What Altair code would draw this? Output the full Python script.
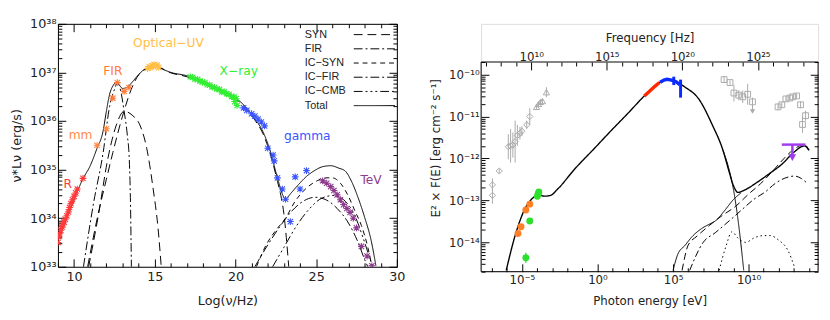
import altair as alt
import pandas as pd

FONT = "DejaVu Sans"

# ================= LEFT PANEL (log10 nu [Hz], log10 nuL_nu [erg/s]) =================
tot_lx = [9.0, 9.5, 10.0, 10.5, 11.0, 11.4, 11.8, 12.0, 12.2, 12.4, 12.6, 12.8, 13.0, 13.3, 13.6,
          13.9, 14.3, 14.7, 15.0, 15.4, 16.0, 17.0, 18.0, 19.0, 19.9, 20.6, 21.2, 21.7, 22.1, 22.6,
          22.9, 23.1, 23.4, 23.9, 24.4, 24.9, 25.4, 25.9, 26.4, 26.8, 27.2, 27.6, 28.0, 28.4, 28.7]
tot_ly = [33.55, 33.96, 34.37, 34.78, 35.08, 35.42, 35.8, 36.2, 36.55, 36.72, 36.79, 36.74, 36.67, 36.7, 36.8,
          36.92, 37.05, 37.12, 37.15, 37.08, 37.0, 36.93, 36.8, 36.65, 36.5, 36.3, 36.05, 35.78, 35.44, 34.83,
          34.5, 34.39, 34.5, 34.69, 34.86, 34.98, 35.06, 35.08, 35.03, 34.97, 34.75, 34.42, 34.02, 33.55, 33.02]
syn_lx = [10.84, 11.5, 12.0, 12.4, 13.0, 13.6, 14.0, 14.3, 15.0, 16.0, 17.0, 18.0, 19.0, 19.9, 20.6,
          21.2, 21.7, 22.1, 22.6, 22.85, 23.0, 23.15, 23.3]
syn_ly = [33.0, 34.1, 34.8, 35.35, 36.1, 36.7, 36.95, 37.04, 37.13, 36.99, 36.91, 36.78, 36.63, 36.48, 36.28,
          36.02, 35.74, 35.38, 34.76, 34.4, 34.09, 33.6, 33.0]
synb_lx = [10.9, 11.5, 12.1, 12.6, 13.1, 13.6, 14.1, 14.5, 14.9, 15.2, 15.4]
synb_ly = [33.0, 34.05, 35.24, 35.9, 36.2, 36.12, 35.9, 35.44, 34.6, 33.8, 33.0]
fir_lx = [10.58, 11.2, 11.8, 12.2, 12.5, 12.7, 12.9, 13.1, 13.3, 13.42, 13.5, 13.55]
fir_ly = [33.0, 34.3, 35.35, 36.3, 36.65, 36.79, 36.6, 36.2, 35.7, 35.2, 34.2, 33.0]
icsyn_lx = [21.3, 21.9, 22.5, 23.1, 23.7, 24.4, 25.06, 25.6, 26.0, 26.5, 27.0, 27.4, 27.8, 28.2, 28.45]
icsyn_ly = [33.0, 33.45, 33.75, 34.0, 34.35, 34.62, 34.77, 34.83, 34.83, 34.72, 34.45, 34.15, 33.85, 33.4, 33.02]
icfir_lx = [21.2, 22.0, 22.8, 23.5, 24.2, 24.94, 25.6, 26.3, 27.0, 27.6, 28.0, 28.2]
icfir_ly = [33.0, 33.45, 33.85, 34.15, 34.35, 34.43, 34.38, 34.2, 33.9, 33.5, 33.15, 33.0]
iccmb_lx = [22.3, 23.0, 23.8, 24.6, 25.4, 26.15, 26.8, 27.4, 27.9, 28.3, 28.5]
iccmb_ly = [33.0, 33.4, 33.85, 34.2, 34.42, 34.47, 34.35, 34.05, 33.6, 33.2, 33.0]

comp_names = ["SYN", "FIR", "IC\u2212SYN", "IC\u2212FIR", "IC\u2212CMB", "Total"]
comp_dash = [[9, 5], [9, 3, 2, 3], [5, 4], [9, 3, 2, 3], [9, 3, 2, 3, 2, 3, 2, 3], [1, 0]]

# observed points
r_lx = [9.0, 9.05, 9.1, 9.18, 9.25, 9.3, 9.38, 9.45, 9.55, 9.65, 9.72, 9.8, 9.9, 10.0, 10.1, 10.2, 10.55]
r_ly = [33.5, 33.62, 33.68, 33.75, 33.82, 33.86, 33.92, 33.98, 34.05, 34.13, 34.22, 34.3, 34.38, 34.45, 34.52, 34.6, 34.82]
mm_lx = [11.42, 12.0]
mm_ly = [35.5, 35.84]
firp_lx = [12.4, 12.68, 13.1, 13.4]
firp_ly = [36.47, 36.79, 36.61, 36.69]
opt_lx = [14.55, 14.65, 14.75, 14.85, 14.95, 15.05, 15.15, 15.25]
opt_ly = [37.08, 37.12, 37.1, 37.14, 37.16, 37.13, 37.15, 37.1]
xr_lx = [17.2, 17.35, 17.5, 17.65, 17.8, 17.95, 18.1, 18.25, 18.4, 18.55, 18.7, 18.85, 19.0, 19.15,
         19.3, 19.45, 19.6, 19.75, 19.9, 20.05, 19.95, 20.1]
xr_ly = [36.91, 36.9, 36.86, 36.86, 36.82, 36.8, 36.79, 36.75, 36.74, 36.7, 36.69, 36.66, 36.65, 36.6,
         36.6, 36.56, 36.55, 36.5, 36.5, 36.46, 36.4, 36.32]
gam_lx = [20.5, 20.7, 21.0, 21.2, 21.4, 21.6, 21.8, 22.0, 22.33, 22.4, 22.6, 22.9, 23.1, 23.4, 23.7, 24.0, 24.4]
gam_ly = [36.27, 36.22, 36.15, 36.1, 36.04, 35.98, 35.9, 35.44, 35.3, 35.18, 34.83, 34.6, 34.39, 33.93, 34.85, 34.6, 34.98]
tev_lx = [25.4, 25.65, 25.9, 26.1, 26.3, 26.5, 26.7, 26.9, 27.1, 27.3, 27.5, 27.8, 28.15, 28.45]
tev_ly = [34.77, 34.72, 34.65, 34.57, 34.48, 34.38, 34.28, 34.2, 34.12, 34.0, 33.8, 33.42, 33.22, 33.02]

band_names = ["R", "mm", "FIR", "Optical\u2212UV", "X\u2212ray", "gamma", "TeV"]
band_colors = ["#FF3A3A", "#FF8A4A", "#FF7A3A", "#FFBE45", "#33EE33", "#3B55FF", "#8E3B8E"]
lab_lx = [9.6, 10.4, 12.4, 15.85, 20.2, 24.45, 28.4]
lab_ly = [34.7, 35.72, 37.02, 37.6, 37.03, 35.68, 34.79]

# ================= RIGHT PANEL (log10 E [eV], log10 E^2F(E) [erg cm-2 s-1]) =================
rtot_lx = [-6.04, -5.45, -4.8, -4.3, -3.9, -3.5, -3.1, -2.66, -1.5, -0.15, 1.0, 2.0, 3.1, 4.1, 4.6,
           5.2, 5.8, 6.7, 7.6, 8.3, 8.7, 9.0, 9.3, 9.7, 10.6, 11.5, 12.2, 13.0, 13.7, 14.0]
rtot_ly = [-14.67, -13.84, -13.2, -12.95, -12.87, -12.9, -12.88, -12.74, -12.25, -11.74, -11.3, -10.93, -10.51, -10.19, -10.12,
           -10.17, -10.3, -10.58, -11.2, -11.8, -12.3, -12.65, -12.81, -12.76, -12.56, -12.33, -12.14, -11.85, -11.7, -11.81]
rsyn_lx = [8.3, 8.7, 9.0, 9.35, 9.68]
rsyn_ly = [-11.8, -12.25, -12.74, -13.6, -14.67]
ric_lx = [5.0, 5.3, 5.8, 6.3, 6.9, 7.5, 7.8, 8.4, 9.0, 9.5]
ric_ly = [-14.67, -14.3, -14.07, -13.85, -13.67, -13.55, -13.49, -13.25, -12.98, -12.82]
rdash_lx = [5.6, 6.0, 6.6, 7.4, 8.3, 9.15, 10.0, 10.8, 11.6, 12.4, 13.0, 13.7, 14.0]
rdash_ly = [-14.67, -14.07, -13.85, -13.6, -13.35, -13.14, -12.85, -12.6, -12.3, -11.98, -11.78, -11.67, -11.8]
rdd_lx = [6.1, 7.0, 7.8, 9.1, 10.45, 11.1, 11.75, 12.4, 13.05, 13.5, 13.9]
rdd_ly = [-14.67, -14.0, -13.77, -13.37, -12.95, -12.8, -12.6, -12.47, -12.42, -12.48, -12.6]
rdot_lx = [8.05, 8.5, 8.9, 9.3, 9.8, 10.45, 11.0, 11.43, 12.0, 12.6, 13.05]
rdot_ly = [-14.67, -14.1, -13.75, -13.9, -14.0, -13.88, -13.84, -13.84, -13.95, -14.19, -14.6]

org_lx = [-5.26, -5.06, -4.74, -4.48]
org_ly = [-13.79, -13.63, -13.23, -13.09]
grn_lx = [-3.98, -3.92, -3.88, -4.48, -4.74]
grn_ly = [-12.9, -12.84, -12.8, -13.49, -14.37]
grn_e = [0.0, 0.0, 0.0, 0.0, 0.12]
red_lx = [3.1, 3.5, 3.8, 4.1]
red_ly = [-10.51, -10.38, -10.28, -10.19]
blu_lx = [4.15, 4.4, 4.6, 4.9, 5.2, 5.45]
blu_ly = [-10.18, -10.13, -10.11, -10.13, -10.17, -10.24]
bluerr_lx = [5.05, 5.5]
bluerr_lo = [-10.25, -10.55]
bluerr_hi = [-10.05, -10.12]
ul_lx = [12.2, 13.77]
ul_ly = -11.67
ul_arrow_lx = 12.9
ul_arrow_ly = -11.98

gd_lx = [-6.95, -6.95, -6.5, -5.9, -5.75, -5.6, -5.45, -5.3, -5.13, -5.0, -4.68, -4.48]
gd_ly = [-12.63, -12.88, -12.3, -11.72, -11.7, -11.68, -11.6, -11.45, -11.4, -11.35, -11.2, -11.0]
gd_e = [0.15, 0.2, 0.05, 0.3, 0.4, 0.3, 0.5, 0.25, 0.15, 0.12, 0.1, 0.2]
gt_lx = [-4.03, -3.9, -3.77, -3.64, -3.38]
gt_ly = [-10.77, -10.7, -10.65, -10.63, -10.42]
gt_e = [0.05, 0.05, 0.05, 0.05, 0.12]
gs_lx = [8.38, 8.77, 9.03, 9.35, 9.61, 9.94, 10.26, 11.95, 12.2, 12.47, 12.73, 12.92, 13.18, 13.44, 13.77, 13.57]
gs_ly = [-10.12, -10.19, -10.44, -10.49, -10.53, -10.47, -10.65, -10.77, -10.72, -10.58, -10.56, -10.53, -10.51, -10.72, -10.98, -11.19]
gs_e = [0.08, 0.05, 0.2, 0.12, 0.15, 0.25, 0.1, 0.08, 0.06, 0.06, 0.05, 0.05, 0.06, 0.08, 0.12, 0.2]
gul_lx = 10.26
gul_ly = -10.88

LOG_NU_PER_EV = 14.383  # log10(1/h) with h in eV s

# axis ranges
E_RANGE = [-7.7, 14.6]
F_RANGE = [-14.7, -9.7]
F_TOP_PAD = -8.79   # empty band above the right frame (holds the frequency axis)

# ================= helpers =================
def P(v):
    return 10.0 ** v


def curves(spec):
    rows = []
    for comp, seg, xs, ys in spec:
        for i, (a, b) in enumerate(zip(xs, ys)):
            rows.append({"lx": a, "v": P(b), "comp": comp, "seg": seg, "i": i})
    return pd.DataFrame(rows)


SUP = "'\u2070\u00b9\u00b2\u00b3\u2074\u2075\u2076\u2077\u2078\u2079'"
E = "round(log(datum.value)/LN10)"
AE = f"abs({E})"
POW_LABEL = (f"'10' + ({E} < 0 ? '\u207b' : '') + ({AE} >= 10 ? substring({SUP}, floor({AE}/10), floor({AE}/10)+1) : '')"
             f" + substring({SUP}, {AE}%10, {AE}%10+1)")
IS_POW = f"abs(log(datum.value)/LN10 - {E}) < 0.001"
IS_POW5 = f"({IS_POW}) && ({E} % 5 == 0)"


def mk_axis(orient, values, major, expr=None, title=None, labels=True, fs=12, tfs=13, lpad=None, tpad=None,
            domain=True, offset=None):
    kw = dict(orient=orient, values=values, grid=False, domain=domain, domainColor="black", domainWidth=1,
              ticks=True, tickColor="black", tickWidth=1,
              tickSize={"condition": {"test": major, "value": -8}, "value": -4},
              labels=labels, labelOverlap=False, labelFlush=False,
              labelFont=FONT, labelFontSize=fs, labelColor="#222",
              titleFont=FONT, titleFontSize=tfs, titleColor="#222", titleFontWeight="normal", title=title)
    if expr is not None:
        kw["labelExpr"] = expr
    if lpad is not None:
        kw["labelPadding"] = lpad
    if tpad is not None:
        kw["titlePadding"] = tpad
    if offset is not None:
        kw["offset"] = {"expr": str(offset)}
    return alt.Axis(**kw)


# ================= LEFT CHART =================
XL = alt.Scale(domain=[9, 30], nice=False, zero=False)
YL = alt.Scale(type="log", domain=[1e33, 1e38], nice=False)
xl_vals = list(range(9, 31))
yl_vals = [m * 10.0 ** e for e in range(33, 38) for m in range(1, 10)] + [1e38]
XL_MAJOR = "datum.value % 5 == 0"

frameL = pd.DataFrame({"x": [9, 30], "y": [1e33, 1e38]})
axesL = alt.Chart(frameL).mark_point(opacity=0).encode(
    x=alt.X("x:Q", scale=XL, axis=mk_axis("bottom", xl_vals, XL_MAJOR,
                                           expr="datum.value % 5 == 0 ? toString(datum.value) : ''",
                                           title="Log(\u03bd/Hz)", fs=13, lpad=12, tpad=8)),
    y=alt.Y("y:Q", scale=YL, axis=mk_axis("left", yl_vals, IS_POW, expr=f"{IS_POW} ? {POW_LABEL} : ''",
                                           title="\u03bd*L\u03bd (erg/s)", fs=13, lpad=10, tpad=6)),
)
mirrorL = alt.Chart(frameL).mark_point(opacity=0).encode(
    x=alt.X("x:Q", scale=XL, axis=mk_axis("top", xl_vals, XL_MAJOR, labels=False)),
    y=alt.Y("y:Q", scale=YL, axis=mk_axis("right", yl_vals, IS_POW, labels=False)),
)

curvesL = curves([
    ("SYN", "syn_a", syn_lx, syn_ly),
    ("SYN", "syn_b", synb_lx, synb_ly),
    ("FIR", "fir", fir_lx, fir_ly),
    ("IC\u2212SYN", "icsyn", icsyn_lx, icsyn_ly),
    ("IC\u2212FIR", "icfir", icfir_lx, icfir_ly),
    ("IC\u2212CMB", "iccmb", iccmb_lx, iccmb_ly),
    ("Total", "total", tot_lx, tot_ly),
])
# legend symbol: a long horizontal stroke drawn from a small symbol (keeps rows compact)
LEG_SYMBOL = "M-4.2,0L4.2,0"
lineL = alt.Chart(curvesL).mark_line(clip=True, color="black", strokeWidth=1, interpolate="monotone").encode(
    x=alt.X("lx:Q", scale=XL, axis=None),
    y=alt.Y("v:Q", scale=YL, axis=None),
    strokeDash=alt.StrokeDash("comp:N", scale=alt.Scale(domain=comp_names, range=comp_dash),
                              sort=comp_names,
                              legend=alt.Legend(title=None, orient="none", legendX=317.5, legendY=5.5, padding=0,
                                                symbolType=LEG_SYMBOL, symbolSize=100, symbolStrokeWidth=1,
                                                symbolStrokeColor="black", symbolFillColor="transparent",
                                                rowPadding=2.5,
                                                labelOffset={"expr": "-76.5"}, labelAlign="left",
                                                labelFont="Liberation Sans",
                                                labelFontSize=11, labelColor="#222")),
    detail="seg:N",
    order="i:Q",
)

pts = []
for name, xs, ys in [("R", r_lx, r_ly), ("mm", mm_lx, mm_ly), ("FIR", firp_lx, firp_ly),
                     ("Optical\u2212UV", opt_lx, opt_ly), ("X\u2212ray", xr_lx, xr_ly),
                     ("gamma", gam_lx, gam_ly), ("TeV", tev_lx, tev_ly)]:
    for a, b in zip(xs, ys):
        pts.append({"lx": a, "v": P(b), "band": name})
ptsL = pd.DataFrame(pts)
BAND = alt.Scale(domain=band_names, range=band_colors)
ASTER = "M-1,-1L1,1M-1,1L1,-1M0,-1.25L0,1.25M-1.25,0L1.25,0"
starL = alt.Chart(ptsL).mark_point(shape=ASTER, filled=False, strokeWidth=1.1, size=30, opacity=1, clip=True).encode(
    x=alt.X("lx:Q", scale=XL, axis=None),
    y=alt.Y("v:Q", scale=YL, axis=None),
    color=alt.Color("band:N", scale=BAND, legend=None),
)
labsL = pd.DataFrame({"lx": lab_lx, "v": [P(v) for v in lab_ly], "band": band_names})
textL = alt.Chart(labsL).mark_text(font=FONT, fontSize=12.5, align="center", baseline="middle").encode(
    x=alt.X("lx:Q", scale=XL, axis=None),
    y=alt.Y("v:Q", scale=YL, axis=None),
    text="band:N",
    color=alt.Color("band:N", scale=BAND, legend=None),
)

left = alt.layer(axesL, mirrorL, lineL, starL, textL).resolve_axis(
    x="independent", y="independent").properties(width=346, height=248)

# ================= RIGHT CHART =================
XE = alt.Scale(type="log", domain=[P(E_RANGE[0]), P(E_RANGE[1])], nice=False)
XF = alt.Scale(type="log", domain=[P(E_RANGE[0] + LOG_NU_PER_EV), P(E_RANGE[1] + LOG_NU_PER_EV)], nice=False)
YR = alt.Scale(type="log", domain=[P(F_RANGE[0]), P(F_TOP_PAD)], nice=False)
xe_vals = [10.0 ** k for k in range(-7, 15)]
xf_vals = [10.0 ** k for k in range(7, 29)]
yr_vals = [m * 10.0 ** e for e in range(-15, -9) for m in range(1, 10)
           if 1.99e-15 <= m * 10.0 ** e <= 2.01e-10]

frameR = pd.DataFrame({"x": [P(E_RANGE[0]), P(E_RANGE[1])], "y": [P(F_RANGE[0]), P(F_RANGE[1])]})
axesR = alt.Chart(frameR).mark_point(opacity=0).encode(
    x=alt.X("x:Q", scale=XE, axis=mk_axis("bottom", xe_vals, IS_POW5, expr=f"({IS_POW5}) ? {POW_LABEL} : ''",
                                           title="Photon energy [eV]", fs=12, tfs=12, lpad=11, tpad=7,
                                           domain=False)),
    y=alt.Y("y:Q", scale=YR, axis=mk_axis("left", yr_vals, IS_POW, expr=f"{IS_POW} ? {POW_LABEL} : ''",
                                           title="E\u00b2 \u00d7 F(E) [erg cm\u207b\u00b2 s\u207b\u00b9]",
                                           fs=12, tfs=12, lpad=10, tpad=6, domain=False)),
)
mirrorR = alt.Chart(frameR).mark_point(opacity=0).encode(
    x=alt.X("x:Q", scale=XE, axis=None),
    y=alt.Y("y:Q", scale=YR, axis=mk_axis("right", yr_vals, IS_POW, labels=False, domain=False)),
)
boxR = alt.Chart(pd.DataFrame({"x": [P(E_RANGE[0])], "x2": [P(E_RANGE[1])],
                               "y": [P(F_RANGE[0])], "y2": [P(F_RANGE[1])]})).mark_rect(
    filled=False, stroke="black", strokeWidth=1).encode(
    x=alt.X("x:Q", scale=XE, axis=None), x2="x2:Q", y=alt.Y("y:Q", scale=YR, axis=None), y2="y2:Q")


def E_df(xs, ys, **extra):
    d = pd.DataFrame({"e": [P(a) for a in xs], "f": [P(b) for b in ys]})
    for k, v in extra.items():
        d[k] = v
    return d


def rline(xs, ys, dash, width):
    return alt.Chart(E_df(xs, ys, i=list(range(len(xs))))).mark_line(
        clip=True, color="black", strokeWidth=width, strokeDash=dash, interpolate="monotone").encode(
        x=alt.X("e:Q", scale=XE, axis=None), y=alt.Y("f:Q", scale=YR, axis=None), order="i:Q")


lTot = rline(rtot_lx, rtot_ly, [1, 0], 1.4)
lSyn = rline(rsyn_lx, rsyn_ly, [1, 0], 1)
lIc = rline(ric_lx, ric_ly, [1, 0], 1)
lDash = rline(rdash_lx, rdash_ly, [7, 4], 1)
lDd = rline(rdd_lx, rdd_ly, [7, 3, 2, 3], 1)
lDot = rline(rdot_lx, rdot_ly, [1.5, 3], 1)

GREY = "#AAAAAA"
gerr = pd.concat([
    pd.DataFrame({"e": [P(a) for a in gd_lx], "lo": [P(b - c) for b, c in zip(gd_ly, gd_e)], "hi": [P(b + c) for b, c in zip(gd_ly, gd_e)]}),
    pd.DataFrame({"e": [P(a) for a in gt_lx], "lo": [P(b - c) for b, c in zip(gt_ly, gt_e)], "hi": [P(b + c) for b, c in zip(gt_ly, gt_e)]}),
    pd.DataFrame({"e": [P(a) for a in gs_lx], "lo": [P(b - c) for b, c in zip(gs_ly, gs_e)], "hi": [P(b + c) for b, c in zip(gs_ly, gs_e)]}),
    pd.DataFrame({"e": [P(gul_lx)], "lo": [P(gul_ly)], "hi": [P(gs_ly[6])]}),
])
gerrR = alt.Chart(gerr).mark_rule(color=GREY, strokeWidth=1).encode(
    x=alt.X("e:Q", scale=XE, axis=None), y=alt.Y("lo:Q", scale=YR, axis=None), y2="hi:Q")


def sym(xs, ys, shape, color, size, filled):
    return alt.Chart(E_df(xs, ys)).mark_point(shape=shape, color=color, size=size, filled=filled,
                                              opacity=1, strokeWidth=1).encode(
        x=alt.X("e:Q", scale=XE, axis=None), y=alt.Y("f:Q", scale=YR, axis=None))


gdR = sym(gd_lx, gd_ly, "diamond", GREY, 40, False)
gtR = sym(gt_lx, gt_ly, "triangle-up", GREY, 40, False)
gsR = sym(gs_lx, gs_ly, "square", GREY, 35, False)
gulR = sym([gul_lx], [gul_ly], "triangle-down", GREY, 30, True)

gerr_green = pd.DataFrame({"e": [P(a) for a in grn_lx], "lo": [P(b - c) for b, c in zip(grn_ly, grn_e)],
                           "hi": [P(b + c) for b, c in zip(grn_ly, grn_e)]})
grnErr = alt.Chart(gerr_green).mark_rule(color="#22CC22", strokeWidth=1.2).encode(
    x=alt.X("e:Q", scale=XE, axis=None), y=alt.Y("lo:Q", scale=YR, axis=None), y2="hi:Q")
orgR = sym(org_lx, org_ly, "circle", "#FF7F27", 50, True)
grnR = sym(grn_lx, grn_ly, "circle", "#2EE02E", 50, True)

redR = alt.Chart(E_df(red_lx, red_ly)).mark_line(color="#FF2A00", strokeWidth=3.5).encode(
    x=alt.X("e:Q", scale=XE, axis=None), y=alt.Y("f:Q", scale=YR, axis=None))
bluR = alt.Chart(E_df(blu_lx, blu_ly)).mark_line(color="#0A2BFF", strokeWidth=3.5).encode(
    x=alt.X("e:Q", scale=XE, axis=None), y=alt.Y("f:Q", scale=YR, axis=None))
bluErr = alt.Chart(pd.DataFrame({"e": [P(a) for a in bluerr_lx], "lo": [P(a) for a in bluerr_lo],
                                 "hi": [P(a) for a in bluerr_hi]})).mark_rule(color="#0A2BFF", strokeWidth=3).encode(
    x=alt.X("e:Q", scale=XE, axis=None), y=alt.Y("lo:Q", scale=YR, axis=None), y2="hi:Q")

PURPLE = "#A23BF0"
ulH = alt.Chart(pd.DataFrame({"e": [P(ul_lx[0])], "e2": [P(ul_lx[1])], "f": [P(ul_ly)]})).mark_rule(
    color=PURPLE, strokeWidth=2.5).encode(
    x=alt.X("e:Q", scale=XE, axis=None), x2="e2:Q", y=alt.Y("f:Q", scale=YR, axis=None))
ulV = alt.Chart(pd.DataFrame({"e": [P(ul_arrow_lx)], "f": [P(ul_ly)], "f2": [P(ul_arrow_ly)]})).mark_rule(
    color=PURPLE, strokeWidth=2.5).encode(
    x=alt.X("e:Q", scale=XE, axis=None), y=alt.Y("f:Q", scale=YR, axis=None), y2="f2:Q")
ulA = sym([ul_arrow_lx], [ul_arrow_ly], "triangle-down", PURPLE, 60, True)

innerR = alt.layer(axesR, mirrorR, boxR, gerrR, gdR, gtR, gsR, gulR, lTot, lSyn, lIc, lDash, lDd, lDot,
                   grnErr, orgR, grnR, redR, bluR, bluErr, ulH, ulV, ulA).resolve_axis(x="independent", y="independent")

frameF = pd.DataFrame({"nu": [P(E_RANGE[0] + LOG_NU_PER_EV), P(E_RANGE[1] + LOG_NU_PER_EV)],
                       "y": [P(F_RANGE[0]), P(F_RANGE[1])]})
topR = alt.Chart(frameF).mark_point(opacity=0).encode(
    x=alt.X("nu:Q", scale=XF, axis=mk_axis("top", xf_vals, IS_POW5, expr=f"({IS_POW5}) ? {POW_LABEL} : ''",
                                            title="Frequency [Hz]", fs=12, tfs=12, lpad=7, tpad=2,
                                            domain=False, offset=-39)),
    y=alt.Y("y:Q", scale=YR, axis=None),
)
right = alt.layer(innerR, topR).resolve_scale(x="independent").properties(width=344, height=253)

chart = alt.hconcat(left, right, spacing=24).resolve_scale(
    color="independent", strokeDash="independent"
).properties(
    padding={"left": 2, "top": 6, "right": 0, "bottom": 0}
).configure_view(stroke="transparent", strokeWidth=0).configure(background="white")

chart.save("out.html", embed_options={"renderer": "svg", "actions": False})
